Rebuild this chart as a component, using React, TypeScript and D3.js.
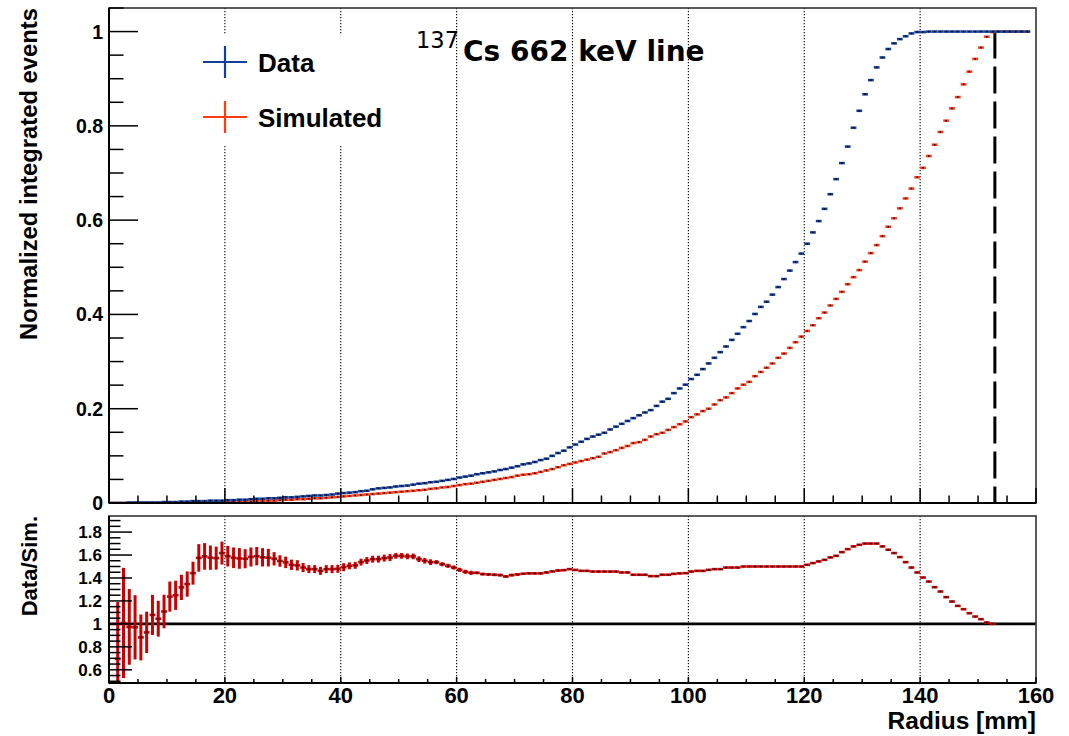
import React from "react";
import * as d3 from "d3";

// ---------- DATA (bins of 1 mm, bin i spans [i, i+1] mm) ----------
const dataCumulative = [
  0, 0, 0, 0.001, 0.001, 0.001, 0.001, 0.001, 0.001, 0.002, 0.002, 0.002,
  0.003, 0.003, 0.004, 0.004, 0.004, 0.005, 0.005, 0.005,
  0.006, 0.006, 0.007, 0.007, 0.008,
  0.009, 0.009, 0.010, 0.010, 0.011,
  0.012, 0.012, 0.013, 0.014,
  0.015, 0.016, 0.016, 0.017, 0.018,
  0.020, 0.021, 0.022, 0.023, 0.025, 0.026,
  0.029, 0.031, 0.032, 0.033, 0.035, 0.036,
  0.037, 0.039, 0.041, 0.042, 0.044, 0.045, 0.047,
  0.049, 0.051, 0.054, 0.056, 0.058, 0.061, 0.063,
  0.065, 0.067, 0.070, 0.072, 0.075, 0.078,
  0.082, 0.084, 0.087, 0.091, 0.094, 0.100, 0.106, 0.111,
  0.118, 0.124, 0.130, 0.136, 0.141, 0.145,
  0.149, 0.156, 0.162, 0.168, 0.174, 0.180, 0.186, 0.192, 0.197, 0.206,
  0.215, 0.221, 0.233, 0.243, 0.251, 0.263, 0.272, 0.284, 0.296, 0.308,
  0.320, 0.332, 0.346, 0.359, 0.373, 0.386, 0.401, 0.416, 0.427, 0.442,
  0.458, 0.475, 0.493, 0.511, 0.529,
  0.550, 0.574, 0.598, 0.624, 0.655, 0.687, 0.721, 0.756, 0.796, 0.832,
  0.867, 0.897, 0.924, 0.945, 0.963, 0.975, 0.984, 0.990, 0.996, 0.999, 0.999,
  1, 1, 1, 1, 1, 1, 1, 1, 1, 1, 1, 1, 1, 1, 1, 1, 1, 1,
];

const simCumulative = [
  0, 0, 0, 0, 0, 0, 0, 0, 0, 0, 0, 0.001, 0.001, 0.001, 0.001, 0.001, 0.001, 0.002, 0.002, 0.002,
  0.002, 0.003, 0.003, 0.003, 0.003, 0.004, 0.004, 0.005, 0.005, 0.006,
  0.007, 0.007, 0.008, 0.008, 0.009, 0.010, 0.010, 0.011, 0.012,
  0.013, 0.014, 0.015, 0.016, 0.017, 0.018, 0.019, 0.020, 0.021, 0.022, 0.023, 0.024,
  0.025, 0.026, 0.027, 0.028, 0.030, 0.031, 0.033, 0.034, 0.036, 0.038,
  0.040, 0.041, 0.043, 0.045, 0.047, 0.049, 0.051, 0.053, 0.055, 0.058,
  0.060, 0.061, 0.063, 0.066, 0.069, 0.072, 0.076, 0.080, 0.083, 0.086, 0.089, 0.092, 0.095, 0.098,
  0.105, 0.108, 0.112, 0.117, 0.121, 0.127, 0.129, 0.134, 0.141, 0.146,
  0.149, 0.155, 0.161, 0.167, 0.173, 0.182, 0.188, 0.195, 0.200, 0.209,
  0.218, 0.224, 0.233, 0.243, 0.251, 0.257, 0.269, 0.278, 0.287, 0.296,
  0.308, 0.317, 0.329, 0.341, 0.353, 0.365, 0.377, 0.392, 0.404, 0.419,
  0.433, 0.448, 0.464, 0.479, 0.494, 0.512, 0.530,
  0.547, 0.566, 0.586, 0.604, 0.625, 0.646, 0.667, 0.691, 0.711,
  0.736, 0.760, 0.787, 0.811, 0.837, 0.861, 0.888, 0.915, 0.942, 0.966, 0.989, 0.999,
  1, 1, 1, 1, 1, 1,
];

const ratioValues = [
  null,
  0.695, 1.008, 0.974, 0.97, 0.882, 0.926, 1.078, 1.045, 1.108, 1.238,
  1.249, 1.318, 1.347, 1.442, 1.575, 1.588, 1.577, 1.573, 1.617, 1.59,
  1.576, 1.57, 1.568, 1.583, 1.59, 1.58, 1.577, 1.567, 1.548, 1.536,
  1.515, 1.51, 1.491, 1.477, 1.477, 1.462, 1.477, 1.477, 1.48, 1.494,
  1.506, 1.51, 1.538, 1.552, 1.564, 1.564, 1.573, 1.578, 1.593, 1.593,
  1.588, 1.588, 1.564, 1.55, 1.538, 1.538, 1.52, 1.506, 1.491, 1.471,
  1.454, 1.445, 1.445, 1.434, 1.431, 1.428, 1.425, 1.413, 1.425, 1.431,
  1.437, 1.44, 1.44, 1.44, 1.448, 1.457, 1.465, 1.468, 1.477, 1.47,
  1.462, 1.462, 1.456, 1.456, 1.456, 1.456, 1.456, 1.448, 1.448, 1.428,
  1.428, 1.428, 1.416, 1.416, 1.428, 1.428, 1.436, 1.44, 1.442, 1.456,
  1.462, 1.462, 1.471, 1.477, 1.477, 1.491, 1.491, 1.491, 1.5, 1.5,
  1.5, 1.5, 1.5, 1.5, 1.5, 1.5, 1.5, 1.5, 1.5, 1.515,
  1.53, 1.544, 1.558, 1.579, 1.593, 1.625, 1.651, 1.675, 1.689, 1.7,
  1.7, 1.7, 1.675, 1.646, 1.617, 1.582, 1.538, 1.491, 1.448, 1.404,
  1.369, 1.32, 1.282, 1.233, 1.195, 1.157, 1.128, 1.093, 1.064, 1.041,
  1.012, 1.001,
];

const ratioErrors = [
  null,
  0.495, 0.48, 0.33, 0.28, 0.2, 0.18, 0.175, 0.156, 0.146, 0.131,
  0.127, 0.11, 0.11, 0.1, 0.12, 0.116, 0.106, 0.1, 0.1, 0.09,
  0.09, 0.09, 0.083, 0.083, 0.08, 0.08, 0.077, 0.058, 0.05, 0.05,
  0.045, 0.045, 0.04, 0.035, 0.035, 0.035, 0.035, 0.035, 0.035, 0.035,
  0.03, 0.03, 0.03, 0.03, 0.03, 0.03, 0.03, 0.03, 0.025, 0.025,
  0.025, 0.025, 0.025, 0.025, 0.025, 0.018, 0.018, 0.018, 0.018, 0.018,
  0.018, 0.018, 0.012, 0.012, 0.012, 0.012, 0.012, 0.012, 0.012, 0.012,
  0.008, 0.008, 0.008, 0.008, 0.008, 0.008, 0.008, 0.008, 0.008, 0.008,
  0.008, 0.008, 0.008, 0.008, 0.008, 0.008, 0.008, 0.008, 0.008, 0.008,
  0.008, 0.008, 0.008, 0.008, 0.008, 0.008, 0.008, 0.008, 0.008, 0.008,
  0.006, 0.006, 0.006, 0.006, 0.006, 0.006, 0.006, 0.006, 0.006, 0.006,
  0.006, 0.006, 0.006, 0.006, 0.006, 0.006, 0.006, 0.006, 0.006, 0.006,
  0.006, 0.006, 0.006, 0.006, 0.006, 0.006, 0.006, 0.006, 0.006, 0.006,
  0.005, 0.005, 0.005, 0.005, 0.005, 0.005, 0.005, 0.005, 0.005, 0.005,
  0.005, 0.005, 0.005, 0.005, 0.005, 0.005, 0.005, 0.005, 0.005, 0.005,
  0.005, 0.005,
];

const binWidth = 1; // mm
const cutRadius = 152.9;
const xTickLabels = [0, 20, 40, 60, 80, 100, 120, 140, 160];
const gridTicks = [20, 40, 60, 80, 100, 120, 140];
const yTopTickLabels = [0, 0.2, 0.4, 0.6, 0.8, 1];
const yBotTickLabels = [0.6, 0.8, 1, 1.2, 1.4, 1.6, 1.8];
const legendItems = ["Data", "Simulated"];

// ---------- STYLE ----------
const BLUE = "#123f9c";
const ORANGE = "#ff3a14";
const RED = "#cc0000";
const FONT = "'Liberation Sans', Arial, Helvetica, sans-serif";
const TITLE_FONT = "'DejaVu Sans', sans-serif";

const L = 109, R = 1036;
const TOP1 = 8, BOT1 = 503;
const TOP2 = 516, BOT2 = 683;

const x = d3.scaleLinear().domain([0, 160]).range([L, R]);
const yTop = d3.scaleLinear().domain([0, 1.05]).range([BOT1, TOP1]);
const yBot = d3.scaleLinear().domain([0.485, 1.94]).range([BOT2, TOP2]);

const fmt = (v: number) => String(+v.toFixed(2));

function HistMarkers({ values, color, y }: { values: (number | null)[]; color: string; y: any }) {
  return (
    <g>
      {values.map((v, i) => {
        if (v === null || v === undefined) return null;
        const x0 = x(i * binWidth), x1 = x((i + 1) * binWidth);
        const cx = x((i + 0.5) * binWidth);
        const yy = y(v);
        return (
          <g key={i}>
            <line x1={x0} x2={x1} y1={yy} y2={yy} stroke={color} strokeWidth={2.6} />
            <rect x={cx - 0.75} y={yy - 0.75} width={1.5} height={1.5} fill="#000" />
          </g>
        );
      })}
    </g>
  );
}

export default function App() {
  const xMinor = d3.range(0, 160.001, 5);
  const yTopMinor = d3.range(0, 1.0501, 0.05);
  const yBotMinor = d3.range(0.5, 1.94, 0.05);

  return (
    <div style={{ position: "absolute", left: 0, top: 0 }}>
      <svg width={1069} height={736} style={{ display: "block", background: "#fff" }}>
        <defs>
          <clipPath id="clipTop">
            <rect x={L} y={TOP1} width={R - L} height={BOT1 - TOP1} />
          </clipPath>
          <clipPath id="clipBot">
            <rect x={L} y={TOP2} width={R - L} height={BOT2 - TOP2} />
          </clipPath>
        </defs>

        {/* ===== Upper pad ===== */}
        {gridTicks.map((t) => (
          <line key={"g1" + t} x1={x(t)} x2={x(t)} y1={TOP1} y2={BOT1}
            stroke="#000" strokeWidth={1.1} strokeDasharray="1.2,1.8" />
        ))}

        {/* legend background */}
        <rect x={190} y={34} width={210} height={112} fill="#fff" />

        {/* cut line */}
        <line x1={x(cutRadius)} x2={x(cutRadius)} y1={yTop(1)} y2={BOT1}
          stroke="#000" strokeWidth={3} strokeDasharray="27,8" />

        <g clipPath="url(#clipTop)">
          <HistMarkers values={simCumulative} color={ORANGE} y={yTop} />
          <HistMarkers values={dataCumulative} color={BLUE} y={yTop} />
        </g>

        {/* frame */}
        <rect x={L} y={TOP1} width={R - L} height={BOT1 - TOP1} fill="none" stroke="#333" strokeWidth={1.6} />
        <line x1={L} x2={L} y1={TOP1} y2={BOT1} stroke="#000" strokeWidth={2} />
        <line x1={L} x2={R} y1={BOT1} y2={BOT1} stroke="#000" strokeWidth={2} />

        {/* x ticks upper */}
        {xMinor.map((t) => {
          const major = Math.abs(t % 20) < 1e-6;
          return (
            <line key={"xt1" + t} x1={x(t)} x2={x(t)} y1={BOT1} y2={BOT1 - (major ? 15 : 7.5)}
              stroke="#000" strokeWidth={1.5} />
          );
        })}
        {/* y ticks upper */}
        {yTopMinor.map((t, i) => {
          const major = i % 4 === 0;
          return (
            <line key={"yt1" + i} x1={L} x2={L + (major ? 29 : 14.5)} y1={yTop(t)} y2={yTop(t)}
              stroke="#000" strokeWidth={1.5} />
          );
        })}
        {yTopTickLabels.map((t) => (
          <text key={"yl1" + t} x={103} y={yTop(t)} dy="0.36em" textAnchor="end"
            fontFamily={FONT} fontWeight="bold" fontSize={19.5} fill="#000">{fmt(t)}</text>
        ))}
        <text transform={`translate(37, ${TOP1}) rotate(-90)`} textAnchor="end"
          fontFamily={FONT} fontWeight="bold" fontSize={23.8} fill="#000">Normalized integrated events</text>

        {/* title */}
        <text x={416} y={48} fontFamily={TITLE_FONT} fontSize={22.5} fill="#000">137</text>
        <text x={463} y={61} fontFamily={TITLE_FONT} fontWeight="bold" fontSize={28} fill="#000">Cs 662 keV line</text>

        {/* legend */}
        {legendItems.map((name, i) => {
          const cy = 62 + i * 55;
          const col = i === 0 ? BLUE : ORANGE;
          return (
            <g key={name}>
              <line x1={203} x2={247} y1={cy} y2={cy} stroke={col} strokeWidth={2.2} />
              <line x1={225} x2={225} y1={cy - 16} y2={cy + 16} stroke={col} strokeWidth={2.2} />
              <text x={258} y={cy + 9.5} fontFamily={FONT} fontWeight="bold" fontSize={26} fill="#000">{name}</text>
            </g>
          );
        })}

        {/* ===== Lower pad ===== */}
        {gridTicks.map((t) => (
          <line key={"g2" + t} x1={x(t)} x2={x(t)} y1={TOP2} y2={BOT2}
            stroke="#000" strokeWidth={1.1} strokeDasharray="1.2,1.8" />
        ))}
        <line x1={L} x2={R} y1={yBot(1)} y2={yBot(1)} stroke="#000" strokeWidth={2.6} />

        <g clipPath="url(#clipBot)">
          {ratioValues.map((v, i) => {
            const e = ratioErrors[i];
            if (v === null || e === null) return null;
            const cx = x((i + 0.5) * binWidth);
            return (
              <line key={"e" + i} x1={cx} x2={cx} y1={yBot(v - e)} y2={yBot(v + e)}
                stroke={RED} strokeWidth={3} />
            );
          })}
          <HistMarkers values={ratioValues} color={RED} y={yBot} />
        </g>

        <rect x={L} y={TOP2} width={R - L} height={BOT2 - TOP2} fill="none" stroke="#333" strokeWidth={1.6} />
        <line x1={L} x2={L} y1={TOP2} y2={BOT2} stroke="#000" strokeWidth={2} />
        <line x1={L} x2={R} y1={BOT2} y2={BOT2} stroke="#000" strokeWidth={2} />

        {xMinor.map((t) => {
          const major = Math.abs(t % 20) < 1e-6;
          return (
            <line key={"xt2" + t} x1={x(t)} x2={x(t)} y1={BOT2} y2={BOT2 - (major ? 6 : 4)}
              stroke="#000" strokeWidth={1.5} />
          );
        })}
        {yBotMinor.map((t, i) => {
          const major = Math.abs(Math.round(t * 100) % 20) < 1e-6;
          return (
            <line key={"yt2" + i} x1={L} x2={L + (major ? 23 : 11.5)} y1={yBot(t)} y2={yBot(t)}
              stroke="#000" strokeWidth={1.5} />
          );
        })}
        {yBotTickLabels.map((t) => (
          <text key={"yl2" + t} x={102} y={yBot(t)} dy="0.36em" textAnchor="end"
            fontFamily={FONT} fontWeight="bold" fontSize={17} fill="#000">{fmt(t)}</text>
        ))}
        {xTickLabels.map((t) => (
          <text key={"xl" + t} x={x(t)} y={703} textAnchor="middle"
            fontFamily={FONT} fontWeight="bold" fontSize={22} fill="#000">{fmt(t)}</text>
        ))}
        <text transform={`translate(37, ${TOP2}) rotate(-90)`} textAnchor="end"
          fontFamily={FONT} fontWeight="bold" fontSize={22} fill="#000">Data/Sim.</text>
        <text x={R} y={729} textAnchor="end" fontFamily={FONT} fontWeight="bold" fontSize={24.5} fill="#000">Radius [mm]</text>
      </svg>
    </div>
  );
}
